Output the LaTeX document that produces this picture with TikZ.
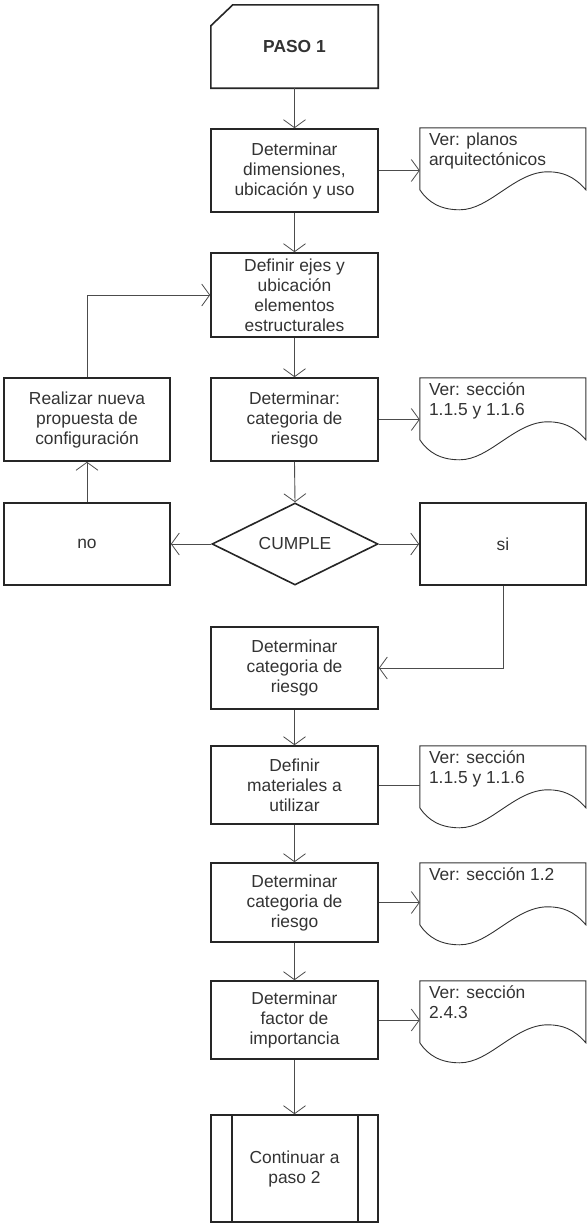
\documentclass[tikz,border=0pt]{standalone}
\usepackage{fontspec}
\setmainfont{Liberation Sans}
\usetikzlibrary{arrows.meta,shapes.geometric}
\tikzset{
  txt/.style={font=\fontsize{17.4}{20}\selectfont, text=black!80},
  box/.style={txt, draw=black!85, line width=1.6pt, minimum width=167pt, align=center, inner sep=0pt},
  boxline/.style={draw=black!85, line width=1.6pt},
  plain/.style={txt, minimum width=167pt, align=center, inner sep=0pt},
  conn/.style={draw=black!70, line width=0.9pt},
  arr/.style={conn, -{Straight Barb[length=8pt,width=22pt,line width=0.8pt]}},
  docbox/.style={minimum width=166pt, minimum height=84pt, inner sep=0pt},
  docline/.style={draw=black!80, line width=0.9pt},
  doctext/.style={txt, anchor=north west, align=left, inner sep=0pt},
}
\newcommand{\mydocshape}[1]{%
  \begin{scope}[shift={(#1.north west)}]
  \draw[docline] (0,0) -- (166,0) -- (166,62)
    .. controls (154,48) and (142,44) .. (128,44)
    .. controls (95,44) and (70,82) .. (40,82)
    .. controls (20,82) and (8,74) .. (0,62) -- cycle;
  \end{scope}}
\begin{document}
\begin{tikzpicture}[x=1pt,y=-1pt]
\useasboundingbox (0,0) rectangle (587,1226);
\fill[white] (0,0) rectangle (587,1226);

% PASO 1
\node[plain, minimum height=83pt, font=\fontsize{17.4}{20}\selectfont\bfseries] (paso) at (294.5,46.5) {PASO 1};
\draw[boxline] ([yshift=-21pt]paso.north west) -- ([xshift=22pt]paso.north west) -- (paso.north east) -- (paso.south east) -- (paso.south west) -- cycle;

% main column
\node[box, minimum height=83pt] (b1) at (294.5,170.5) {Determinar\\dimensiones,\\ubicación y uso};
\node[box, minimum height=84pt] (b2) at (294.5,295) {Definir ejes y\\ubicación\\elementos\\estructurales};
\node[box, minimum height=83pt] (b3) at (294.5,419.5) {Determinar:\\categoria de\\riesgo};
\node[box, minimum width=166pt, minimum height=83pt] (real) at (87,419.5) {Realizar nueva\\propuesta de\\configuración};
\node[txt, draw=black!85, line width=1.6pt, diamond, minimum width=166pt, minimum height=82pt, inner sep=0pt, aspect=2] (cum) at (295,544) {CUMPLE};
\node[box, minimum width=166pt, minimum height=82pt] (no) at (87,544) {no};
\node[box, minimum width=166pt, minimum height=82pt] (si) at (503,544) {si};
\node[box, minimum height=82pt] (b4) at (294.5,668) {Determinar\\categoria de\\riesgo};
\node[box, minimum height=78pt] (b5) at (294.5,785) {Definir\\materiales a\\utilizar};
\node[box, minimum height=79pt] (b6) at (294.5,902.5) {Determinar\\categoria de\\riesgo};
\node[box, minimum height=78pt] (b7) at (294.5,1020) {Determinar\\factor de\\importancia};
\node[box, minimum height=107pt] (cont) at (294.5,1168.5) {Continuar a\\paso 2};
\draw[boxline] ([xshift=22pt]cont.north west) -- ([xshift=22pt]cont.south west);
\draw[boxline] ([xshift=-21pt]cont.north east) -- ([xshift=-21pt]cont.south east);

% documents
\node[docbox] (d1) at (503,170) {};
\node[docbox] (d2) at (503,420) {};
\node[docbox] (d3) at (503,788) {};
\node[docbox] (d4) at (503,905) {};
\node[docbox] (d5) at (503,1023) {};
\mydocshape{d1}\mydocshape{d2}\mydocshape{d3}\mydocshape{d4}\mydocshape{d5}
\node[doctext] (t1) at ([xshift=9pt,yshift=-5pt]d1.north west) {Ver: planos\\arquitectónicos};
\node[doctext] (t2) at ([xshift=9pt,yshift=-5pt]d2.north west) {Ver: sección\\1.1.5 y 1.1.6};
\node[doctext] (t3) at ([xshift=9pt,yshift=-5pt]d3.north west) {Ver: sección\\1.1.5 y 1.1.6};
\node[doctext] (t4) at ([xshift=9pt,yshift=-5pt]d4.north west) {Ver: sección 1.2};
\node[doctext] (t5) at ([xshift=9pt,yshift=-5pt]d5.north west) {Ver: sección\\2.4.3};

% connectors
\draw[arr] (paso.south) -- (b1.north);
\draw[arr] (b1.east) -- (b1.east -| d1.west);
\draw[arr] (b1.south) -- (b2.north);
\draw[arr] (b2.south) -- (b3.north);
\draw[arr] (b3.east) -- (b3.east -| d2.west);
\draw[arr] (b3.south) -- (cum.north);
\draw[arr] (cum.west) -- (no.east);
\draw[arr] (cum.east) -- (si.west);
\draw[arr] (no.north) -- (real.south);
\draw[arr] (real.north) |- (b2.west);
\draw[arr] (si.south) |- (b4.east);
\draw[arr] (b4.south) -- (b5.north);
\draw[conn] (b5.east) -- (b5.east -| d3.west);
\draw[arr] (b5.south) -- (b6.north);
\draw[arr] (b6.east) -- (b6.east -| d4.west);
\draw[arr] (b6.south) -- (b7.north);
\draw[arr] (b7.east) -- (b7.east -| d5.west);
\draw[arr] (b7.south) -- (cont.north);
\end{tikzpicture}
\end{document}
